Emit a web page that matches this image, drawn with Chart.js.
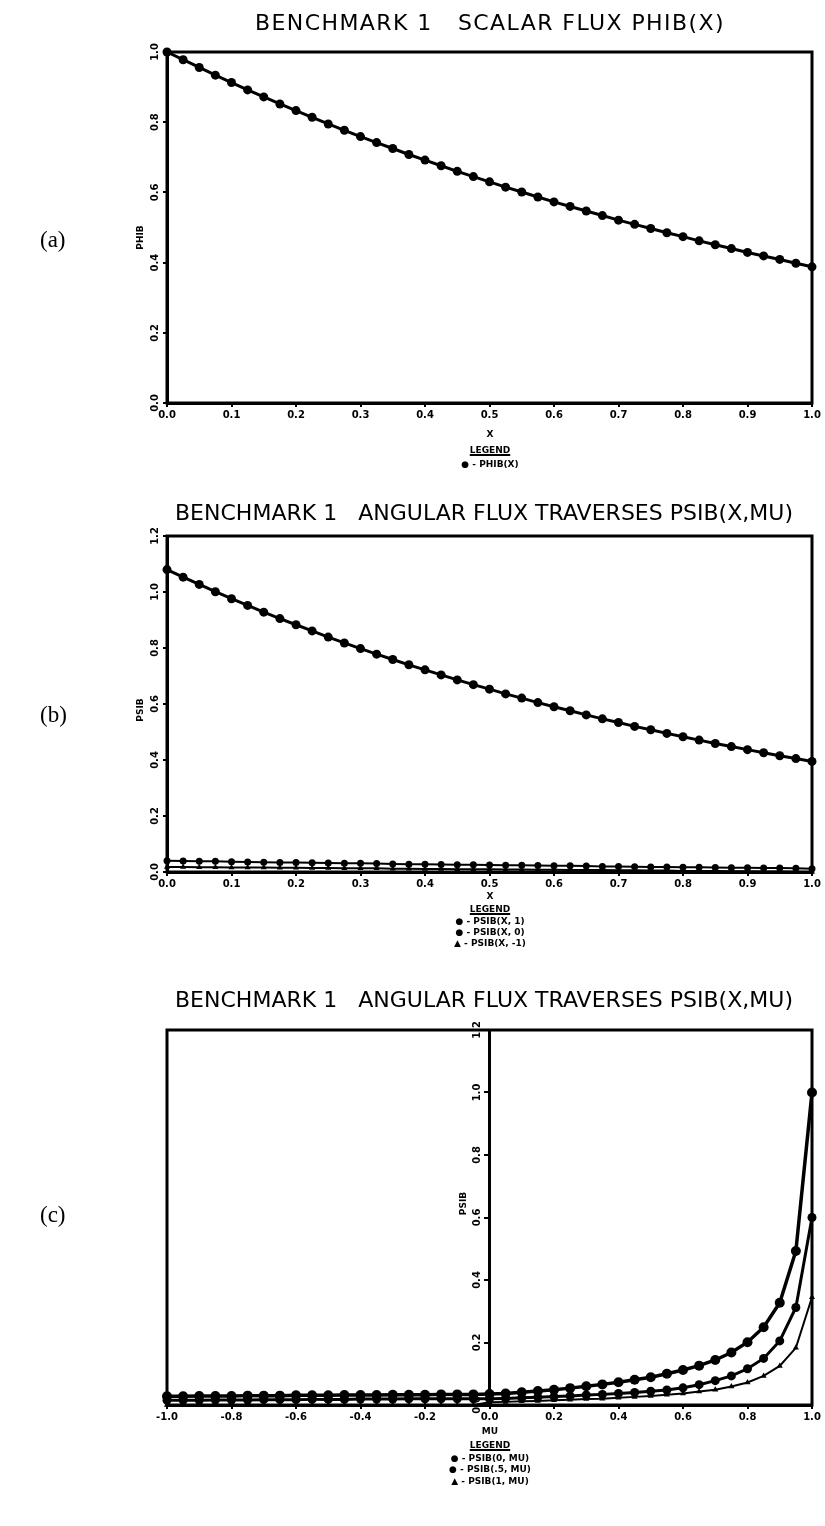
<!DOCTYPE html>
<html>
<head>
<meta charset="utf-8">
<script src="https://cdn.jsdelivr.net/npm/chart.js@4.4.1/dist/chart.umd.min.js"></script>
<style>
  html, body { margin: 0; padding: 0; background: #fff; }
  body { width: 825px; height: 1526px; position: relative; overflow: hidden;
         font-family: "DejaVu Sans", sans-serif; color: #000; }
  canvas { position: absolute; left: 0; }
  .t { position: absolute; white-space: pre; line-height: 1; }
  .title { font-size: 22px; }
  .panel { font-family: "Liberation Serif", serif; font-size: 23px; left: 40px; }
  .small { font-weight: bold; font-size: 9px; left: 0; width: 980px; text-align: center; }
  .head { text-decoration: underline; text-decoration-thickness: 2px; }
</style>
</head>
<body>
<canvas id="chartA" width="825" height="480" style="top:0px"></canvas>
<canvas id="chartB" width="825" height="500" style="top:480px"></canvas>
<canvas id="chartC" width="825" height="546" style="top:980px"></canvas>

<div class="t title" data-fit="470" style="left:255px;top:12px">BENCHMARK 1   SCALAR FLUX PHIB(X)</div>
<div class="t panel" style="top:228px">(a)</div>
<div class="t small" style="top:430px">X</div>
<div class="t small head" style="top:446px">LEGEND</div>
<div class="t small" style="top:460px">● - PHIB(X)</div>

<div class="t title" data-fit="618" style="left:175px;top:502px">BENCHMARK 1   ANGULAR FLUX TRAVERSES PSIB(X,MU)</div>
<div class="t panel" style="top:703px">(b)</div>
<div class="t small" style="top:892px">X</div>
<div class="t small head" style="top:905px">LEGEND</div>
<div class="t small" style="top:917px">● - PSIB(X, 1)</div>
<div class="t small" style="top:928px">● - PSIB(X, 0)</div>
<div class="t small" style="top:939px">▲ - PSIB(X, -1)</div>

<div class="t title" data-fit="618" style="left:175px;top:989px">BENCHMARK 1   ANGULAR FLUX TRAVERSES PSIB(X,MU)</div>
<div class="t panel" style="top:1203px">(c)</div>
<div class="t small" style="top:1427px">MU</div>
<div class="t small head" style="top:1441px">LEGEND</div>
<div class="t small" style="top:1454px">● - PSIB(0, MU)</div>
<div class="t small" style="top:1465px">● - PSIB(.5, MU)</div>
<div class="t small" style="top:1477px">▲ - PSIB(1, MU)</div>

<script>
// ---- data -------------------------------------------------------------
// spatial mesh used by panels (a) and (b)
const xMesh = [0.000, 0.025, 0.050, 0.075, 0.100, 0.125, 0.150, 0.175, 0.200, 0.225,
               0.250, 0.275, 0.300, 0.325, 0.350, 0.375, 0.400, 0.425, 0.450, 0.475,
               0.500, 0.525, 0.550, 0.575, 0.600, 0.625, 0.650, 0.675, 0.700, 0.725,
               0.750, 0.775, 0.800, 0.825, 0.850, 0.875, 0.900, 0.925, 0.950, 0.975, 1.000];

// (a) scalar flux PHIB(X)
const phiB = [1.000, 0.978, 0.956, 0.934, 0.913, 0.892, 0.872, 0.852, 0.833, 0.814,
              0.795, 0.777, 0.759, 0.742, 0.725, 0.708, 0.692, 0.676, 0.660, 0.645,
              0.630, 0.615, 0.601, 0.587, 0.573, 0.560, 0.547, 0.534, 0.521, 0.509,
              0.497, 0.485, 0.474, 0.462, 0.451, 0.440, 0.429, 0.419, 0.409, 0.398, 0.388];

// (b) angular flux traverses PSIB(X,1), PSIB(X,0), PSIB(X,-1)
const psiMuPlus1 = [1.080, 1.053, 1.027, 1.001, 0.976, 0.952, 0.928, 0.905, 0.883, 0.861,
                    0.839, 0.818, 0.798, 0.778, 0.759, 0.740, 0.722, 0.704, 0.686, 0.669,
                    0.653, 0.636, 0.621, 0.605, 0.590, 0.576, 0.561, 0.547, 0.534, 0.520,
                    0.508, 0.495, 0.483, 0.471, 0.459, 0.448, 0.437, 0.426, 0.415, 0.405, 0.395];
const psiMuZero = [0.040, 0.039, 0.038, 0.038, 0.037, 0.036, 0.035, 0.034, 0.034, 0.033,
                   0.032, 0.031, 0.031, 0.030, 0.029, 0.028, 0.028, 0.027, 0.026, 0.026,
                   0.025, 0.024, 0.024, 0.023, 0.022, 0.022, 0.021, 0.020, 0.020, 0.019,
                   0.018, 0.018, 0.017, 0.017, 0.016, 0.015, 0.015, 0.014, 0.014, 0.013, 0.012];
const psiMuMinus1 = [0.018, 0.018, 0.017, 0.017, 0.016, 0.016, 0.016, 0.015, 0.015, 0.014,
                     0.014, 0.013, 0.013, 0.013, 0.012, 0.012, 0.011, 0.011, 0.010, 0.010,
                     0.010, 0.009, 0.009, 0.008, 0.008, 0.007, 0.007, 0.007, 0.006, 0.006,
                     0.005, 0.005, 0.004, 0.004, 0.004, 0.003, 0.003, 0.002, 0.002, 0.001, 0.000];

// (c) angular distributions at X = 0, 0.5, 1
const muMesh = [-1.00, -0.95, -0.90, -0.85, -0.80, -0.75, -0.70, -0.65, -0.60, -0.55,
                -0.50, -0.45, -0.40, -0.35, -0.30, -0.25, -0.20, -0.15, -0.10, -0.05,
                 0.00,  0.05,  0.10,  0.15,  0.20,  0.25,  0.30,  0.35,  0.40,  0.45,
                 0.50,  0.55,  0.60,  0.65,  0.70,  0.75,  0.80,  0.85,  0.90,  0.95, 1.00];
const psiAtX0 = [0.028, 0.028, 0.029, 0.029, 0.029, 0.030, 0.030, 0.030, 0.031, 0.031,
                 0.031, 0.032, 0.032, 0.032, 0.033, 0.033, 0.033, 0.034, 0.034, 0.034,
                 0.035, 0.037, 0.041, 0.045, 0.049, 0.054, 0.060, 0.066, 0.073, 0.081,
                 0.089, 0.100, 0.112, 0.126, 0.144, 0.168, 0.201, 0.249, 0.327, 0.493, 1.000];
const psiAtXHalf = [0.015, 0.015, 0.015, 0.016, 0.016, 0.016, 0.017, 0.017, 0.017, 0.018,
                    0.018, 0.018, 0.019, 0.019, 0.019, 0.020, 0.020, 0.020, 0.020, 0.020,
                    0.020, 0.021, 0.023, 0.025, 0.027, 0.029, 0.032, 0.034, 0.037, 0.040,
                    0.044, 0.048, 0.055, 0.065, 0.078, 0.093, 0.116, 0.149, 0.205, 0.312, 0.600];
const psiAtX1 = [0.000, 0.000, 0.000, 0.000, 0.000, 0.000, 0.000, 0.000, 0.000, 0.000,
                 0.000, 0.000, 0.000, 0.000, 0.000, 0.000, 0.000, 0.000, 0.000, 0.000,
                 0.009, 0.010, 0.012, 0.013, 0.015, 0.017, 0.019, 0.020, 0.023, 0.026,
                 0.029, 0.033, 0.037, 0.043, 0.049, 0.059, 0.072, 0.093, 0.125, 0.183, 0.345];

// tick positions
const xTicksX = [0.0, 0.1, 0.2, 0.3, 0.4, 0.5, 0.6, 0.7, 0.8, 0.9, 1.0];
const xTicksMu = [-1.0, -0.8, -0.6, -0.4, -0.2, 0.0, 0.2, 0.4, 0.6, 0.8, 1.0];
const yTicksA = [0.0, 0.2, 0.4, 0.6, 0.8, 1.0];
const yTicksB = [0.0, 0.2, 0.4, 0.6, 0.8, 1.0, 1.2];
const yTicksC = [0.0, 0.2, 0.4, 0.6, 0.8, 1.0, 1.2];

// ---- drawing ----------------------------------------------------------
const INK = '#000';
const TICK_FONT = { family: 'DejaVu Sans', size: 10, weight: 'bold' };

// boxed frame, rotated y tick labels and vertical axis title
const plotFrame = {
  id: 'plotFrame',
  beforeDatasetsDraw(chart) {
    const { ctx, chartArea: a } = chart;
    ctx.save();
    ctx.strokeStyle = INK;
    ctx.lineWidth = 3;
    ctx.strokeRect(a.left, a.top, a.right - a.left, a.bottom - a.top);
    ctx.restore();
  },
  afterDraw(chart, args, opts) {
    const { ctx, chartArea: a, scales } = chart;
    const y = scales.y;
    const axisX = opts.axisAt === null ? a.left : scales.x.getPixelForValue(opts.axisAt);
    ctx.save();
    ctx.fillStyle = INK;
    ctx.textAlign = 'center';
    ctx.textBaseline = 'middle';
    ctx.font = 'bold 10px "DejaVu Sans"';
    y.ticks.forEach((t, i) => {
      ctx.save();
      ctx.translate(axisX - 12, y.getPixelForTick(i));
      ctx.rotate(-Math.PI / 2);
      ctx.fillText(t.value.toFixed(1), 0, 0);
      ctx.restore();
    });
    ctx.font = 'bold 9px "DejaVu Sans"';
    ctx.translate(axisX - 26, (a.top + a.bottom) / 2 + (opts.titleShift || 0));
    ctx.rotate(-Math.PI / 2);
    ctx.fillText(opts.title, 0, 0);
    ctx.restore();
  }
};

function xScale(min, max, ticks, height) {
  return {
    type: 'linear', min, max,
    afterBuildTicks: s => { s.ticks = ticks.map(v => ({ value: v })); },
    afterFit: s => { s.height = height; },
    ticks: { color: INK, font: TICK_FONT, padding: 2, maxRotation: 0, autoSkip: false,
             callback: v => v.toFixed(1) },
    grid: { display: true, drawOnChartArea: false, drawTicks: true, tickLength: 4,
            color: INK, lineWidth: 2 },
    border: { display: true, color: INK, width: 3 }
  };
}

function yScale(max, ticks, width, position) {
  return {
    type: 'linear', min: 0, max, position,
    afterBuildTicks: s => { s.ticks = ticks.map(v => ({ value: v })); },
    afterFit: s => { s.width = width; },
    ticks: { display: false },
    grid: { display: true, drawOnChartArea: false, drawTicks: true, tickLength: 4,
            color: INK, lineWidth: 2 },
    border: { display: true, color: INK, width: 3 }
  };
}

function series(xs, ys, style) {
  return Object.assign({
    data: xs.map((x, i) => ({ x, y: ys[i] })),
    borderColor: INK, backgroundColor: INK, pointBorderColor: INK,
    borderWidth: 3, pointRadius: 4.5, pointBorderWidth: 0, pointStyle: 'circle',
    tension: 0, clip: 12
  }, style);
}

function build(id, datasets, scales, padding, frameOpts) {
  return new Chart(document.getElementById(id), {
    type: 'line',
    data: { datasets },
    options: {
      responsive: false, animation: false, devicePixelRatio: 1, events: [],
      layout: { padding },
      scales,
      plugins: { legend: { display: false }, tooltip: { enabled: false }, plotFrame: frameOpts }
    },
    plugins: [plotFrame]
  });
}

// (a) scalar flux
build('chartA',
  [series(xMesh, phiB, {})],
  { x: xScale(0, 1, xTicksX, 77), y: yScale(1.0, yTicksA, 167, 'left') },
  { top: 52, right: 13, left: 0, bottom: 0 },
  { axisAt: null, title: 'PHIB', titleShift: 10 });

// (b) traverses
build('chartB',
  [series(xMesh, psiMuPlus1, {}),
   series(xMesh, psiMuZero, { borderWidth: 2, pointRadius: 3.5 }),
   series(xMesh, psiMuMinus1, { borderWidth: 2, pointRadius: 3.5, pointStyle: 'triangle' })],
  { x: xScale(0, 1, xTicksX, 108), y: yScale(1.2, yTicksB, 167, 'left') },
  { top: 56, right: 13, left: 0, bottom: 0 },
  { axisAt: null, title: 'PSIB', titleShift: 6 });

// (c) angular distributions, y axis through MU = 0
build('chartC',
  [series(muMesh, psiAtX0, { borderWidth: 3.5, pointRadius: 5 }),
   series(muMesh, psiAtXHalf, { borderWidth: 3, pointRadius: 4.5 }),
   series(muMesh, psiAtX1, { borderWidth: 2, pointRadius: 3.5, pointStyle: 'triangle' })],
  { x: xScale(-1, 1, xTicksMu, 121), y: yScale(1.2, yTicksC, 0, { x: 0 }) },
  { top: 50, right: 13, left: 167, bottom: 0 },
  { axisAt: 0, title: 'PSIB', titleShift: -14 });

// stretch the headings to their ruled width
document.querySelectorAll('[data-fit]').forEach(el => {
  const target = +el.dataset.fit;
  const n = el.textContent.length;
  const w = el.getBoundingClientRect().width;
  el.style.letterSpacing = ((target - w) / n) + 'px';
});
</script>
</body>
</html>
